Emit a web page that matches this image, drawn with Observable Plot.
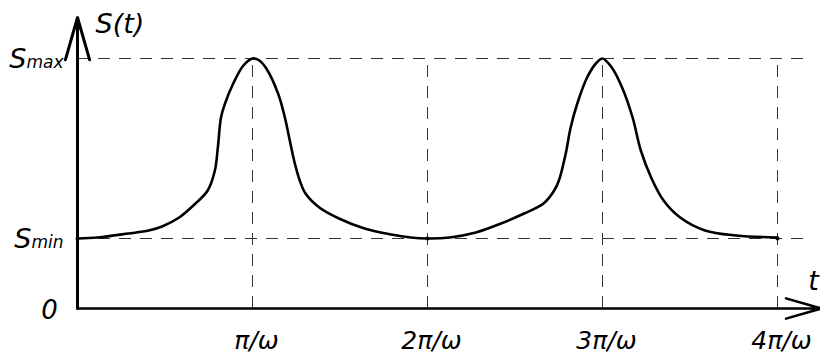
<!DOCTYPE html>
<html>
<head>
<meta charset="utf-8">
<script src="https://cdn.jsdelivr.net/npm/d3@7"></script>
<script src="https://cdn.jsdelivr.net/npm/@observablehq/plot@0.6"></script>
<style>
  html, body { margin: 0; padding: 0; background: #fff; }
  #chart svg { display: block; }
</style>
</head>
<body>
<div id="chart"></div>
<script>
// --- data (t in units of π/ω, S in arbitrary units) ---
const Smin = 1.4;
const Smax = 5.0;
const tValues = [0, 0.116, 0.291, 0.407, 0.483, 0.581, 0.674, 0.744, 0.785, 0.802, 0.820, 0.843, 0.890, 0.948, 1.0,
  1.039, 1.079, 1.146, 1.185, 1.213, 1.242, 1.270, 1.303, 1.382, 1.494, 1.640, 1.792, 1.904, 2.0,
  2.127, 2.276, 2.420, 2.552, 2.663, 2.724, 2.751, 2.790, 2.818, 2.856, 2.912, 2.967, 3.0,
  3.053, 3.112, 3.172, 3.219, 3.278, 3.349, 3.444, 3.586, 3.763, 4.0];
const sValues = [1.40, 1.42, 1.50, 1.56, 1.64, 1.82, 2.10, 2.36, 2.76, 3.22, 3.82, 4.10, 4.50, 4.86, 5.00,
  4.96, 4.80, 4.30, 3.82, 3.36, 2.90, 2.56, 2.30, 2.02, 1.80, 1.60, 1.48, 1.42, 1.40,
  1.42, 1.52, 1.70, 1.90, 2.10, 2.36, 2.56, 3.10, 3.62, 4.10, 4.62, 4.92, 5.00,
  4.82, 4.42, 3.82, 3.16, 2.62, 2.16, 1.82, 1.56, 1.46, 1.42];
const xTicks = [1, 2, 3, 4];
const xTickLabels = ["π/ω", "2π/ω", "3π/ω", "4π/ω"];
const yLabelSubs = ["max", "min"];
const minPoints = [0, 2, 4];
const xAxisEnd = 4.25;   // arrow tip of t axis
const yAxisEnd = 5.82;   // arrow tip of S axis
const guideEnd = 4.18;   // end of horizontal dashed guides

const curve = tValues.map((t, i) => ({t, s: sValues[i]}));
const ticks = xTicks.map((t, i) => ({t, label: xTickLabels[i]}));
const yLevels = [Smax, Smin].map((s, i) => ({s, sub: yLabelSubs[i]}));

const font = "'DejaVu Sans', sans-serif";
const dash = "12,9";

const chart = Plot.plot({
  width: 820,
  height: 360,
  marginLeft: 77,
  marginRight: 43,
  marginTop: 58,
  marginBottom: 52,
  x: {domain: [0, 4], axis: null},
  y: {domain: [0, 5], axis: null},
  style: {fontFamily: font, background: "#fff", color: "#000", overflow: "visible"},
  marks: [
    // dashed guides
    Plot.ruleY(yLevels, {y: "s", x1: 0, x2: guideEnd, stroke: "#333", strokeWidth: 1, strokeDasharray: dash}),
    Plot.ruleX(ticks, {x: "t", y1: 0, y2: Smax, stroke: "#333", strokeWidth: 1, strokeDasharray: dash}),
    // axes with arrows
    Plot.arrow([0], {x1: 0, y1: 0, x2: xAxisEnd, y2: 0, stroke: "#000", strokeWidth: 2.5, headLength: 22, headAngle: 32}),
    Plot.arrow([0], {x1: 0, y1: 0, x2: 0, y2: yAxisEnd, stroke: "#000", strokeWidth: 3, headLength: 22, headAngle: 32}),
    // curve
    Plot.line(curve, {x: "t", y: "s", curve: "catmull-rom", stroke: "#000", strokeWidth: 2.6}),
    Plot.dot(minPoints, {x: d => d, y: Smin, r: 2, fill: "#000", stroke: "none"}),
    // tick labels
    Plot.text(ticks, {x: "t", y: 0, text: "label", dy: 40, dx: 4, lineAnchor: "bottom", textAnchor: "middle",
      fontSize: 25, fontStyle: "italic", fill: "#000"}),
    // y labels: S + subscript-ish text (split into tspans below)
    Plot.text(yLevels, {x: 0, y: "s", text: d => "S" + d.sub, dx: -14, dy: 1, textAnchor: "end", lineAnchor: "middle",
      fontSize: 27, fontStyle: "italic", fill: "#000", className: "ylab"}),
    Plot.text([0], {x: 0, y: 0, text: d => "0", dx: -28, dy: 2, textAnchor: "middle", lineAnchor: "middle",
      fontSize: 26, fontStyle: "italic", fill: "#000"}),
    Plot.text(["S(t)"], {frameAnchor: "top-left", text: d => d, dx: 18, dy: -34, textAnchor: "start", lineAnchor: "middle",
      fontSize: 27, fontStyle: "italic", fill: "#000"}),
    Plot.text(["t"], {frameAnchor: "bottom-right", text: d => d, dx: 36, dy: -27, textAnchor: "middle", lineAnchor: "middle",
      fontSize: 27, fontStyle: "italic", fill: "#000"})
  ]
});

// split "Smax"/"Smin" into a big S and smaller suffix
d3.select(chart).selectAll(".ylab text").each(function() {
  const el = d3.select(this);
  const full = el.text();
  el.text(null);
  el.append("tspan").text(full.slice(0, 1));
  el.append("tspan").attr("font-size", 17).text(full.slice(1));
});

document.getElementById("chart").appendChild(chart);
</script>
</body>
</html>
